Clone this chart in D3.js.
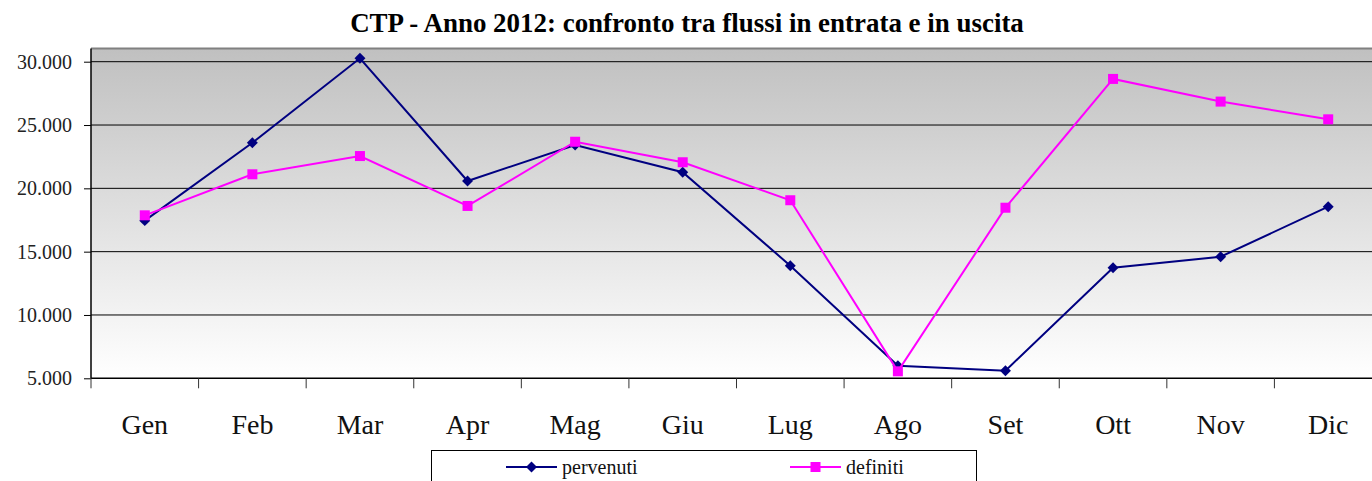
<!DOCTYPE html>
<html>
<head>
<meta charset="utf-8">
<script src="https://cdn.jsdelivr.net/npm/d3@7"></script>
<style>
  html, body { margin: 0; padding: 0; background: #fff; }
  svg { display: block; }
</style>
</head>
<body>
<svg id="chart" width="1372" height="481"></svg>
<script>
const months = ["Gen","Feb","Mar","Apr","Mag","Giu","Lug","Ago","Set","Ott","Nov","Dic"];
const pervenuti = [17450, 23600, 30270, 20580, 23420, 21270, 13890, 5990, 5600, 13730, 14600, 18550];
const definiti  = [17870, 21110, 22550, 18610, 23680, 22060, 19060, 5550, 18470, 28640, 26850, 25450];
const yTicks = [5000, 10000, 15000, 20000, 25000, 30000];
const seriesNames = ["pervenuti", "definiti"];
const titleText = "CTP - Anno 2012: confronto tra flussi in entrata e in uscita";

(function () {
const svg = d3.select("#chart");
const pLeft = 91, pRight = 1382, pTop = 48.4, pBottom = 378.3;
const serif = "'Liberation Serif', 'Times New Roman', serif";

const x = d3.scaleBand().domain(months).range([pLeft, pRight]);
const y = d3.scaleLinear().domain([5000, 31050]).range([pBottom, pTop]);

// gradient background
const defs = svg.append("defs");
const grad = defs.append("linearGradient").attr("id", "bg").attr("x1", 0).attr("y1", 0).attr("x2", 0).attr("y2", 1);
grad.append("stop").attr("offset", "0%").attr("stop-color", "#c0c0c0");
grad.append("stop").attr("offset", "100%").attr("stop-color", "#ffffff");

svg.append("rect").attr("x", pLeft).attr("y", pTop).attr("width", pRight - pLeft).attr("height", pBottom - pTop)
  .attr("fill", "url(#bg)");
svg.append("line").attr("x1", pLeft).attr("x2", pRight).attr("y1", pTop).attr("y2", pTop)
  .attr("stroke", "#808080").attr("stroke-width", 2);

// gridlines
svg.append("g").selectAll("line").data(yTicks.filter(d => d > 5000)).join("line")
  .attr("x1", pLeft).attr("x2", pRight)
  .attr("y1", d => y(d)).attr("y2", d => y(d))
  .attr("stroke", "#000").attr("stroke-width", 1);

// y axis
const yAxis = svg.append("g").attr("transform", `translate(${pLeft},0)`)
  .call(d3.axisLeft(y).tickValues(yTicks).tickSize(7).tickPadding(12)
    .tickFormat(d => d3.format(",")(d).replace(/,/g, ".")));
yAxis.select(".domain").attr("stroke", "#000").attr("stroke-width", 1.5).attr("d", `M0,${pTop}V${pBottom}`);
yAxis.selectAll(".tick line").attr("stroke", "#000");
yAxis.selectAll(".tick text").attr("font-family", serif).attr("font-size", 20).attr("fill", "#222");

// x axis
const xAxis = svg.append("g").attr("transform", `translate(0,${pBottom})`)
  .call(d3.axisBottom(x).tickSize(0).tickPadding(0));
xAxis.select(".domain").attr("stroke", "#000").attr("stroke-width", 1.5).attr("d", `M${pLeft},0H${pRight}`);
xAxis.selectAll(".tick text").attr("font-family", serif).attr("font-size", 28).attr("fill", "#111")
  .attr("dy", null).attr("y", 56);
xAxis.append("g").selectAll("line").data(months.concat(["__end"])).join("line")
  .attr("x1", (d, i) => pLeft + i * x.step()).attr("x2", (d, i) => pLeft + i * x.step())
  .attr("y1", 0).attr("y2", 10).attr("stroke", "#333").attr("stroke-width", 1);

// lines
const line = d3.line().x((d, i) => x(months[i]) + x.bandwidth() / 2).y(d => y(d));
const colors = ["#000080", "#ff00ff"];
const data = [pervenuti, definiti];
data.forEach((vals, si) => {
  svg.append("path").datum(vals).attr("d", line).attr("fill", "none")
    .attr("stroke", colors[si]).attr("stroke-width", 2);
  const g = svg.append("g");
  vals.forEach((v, i) => {
    const cx = x(months[i]) + x.bandwidth() / 2, cy = y(v);
    if (si === 0) {
      g.append("path").attr("d", d3.symbol(d3.symbolSquare, 60)())
        .attr("transform", `translate(${cx},${cy}) rotate(45)`).attr("fill", colors[si]);
    } else {
      g.append("rect").attr("x", cx - 5).attr("y", cy - 5).attr("width", 10).attr("height", 10).attr("fill", colors[si]);
    }
  });
});

// title
const title = svg.append("text").attr("x", 687).attr("y", 32).attr("text-anchor", "middle")
  .attr("font-family", serif).attr("font-weight", "bold").attr("font-size", 24).attr("fill", "#000")
  .text(titleText);
const tw = title.node().getComputedTextLength();
title.attr("font-size", 24 * 674 / tw);

// legend
const lg = svg.append("g");
lg.append("rect").attr("x", 431.5).attr("y", 450.5).attr("width", 545).attr("height", 50)
  .attr("fill", "#fff").attr("stroke", "#000").attr("stroke-width", 1);
const legX = [506, 790];
seriesNames.forEach((name, si) => {
  const lx = legX[si], ly = 467;
  lg.append("line").attr("x1", lx).attr("x2", lx + 51).attr("y1", ly).attr("y2", ly)
    .attr("stroke", colors[si]).attr("stroke-width", 2);
  if (si === 0) {
    lg.append("path").attr("d", d3.symbol(d3.symbolSquare, 60)())
      .attr("transform", `translate(${lx + 25.5},${ly}) rotate(45)`).attr("fill", colors[si]);
  } else {
    lg.append("rect").attr("x", lx + 20.5).attr("y", ly - 5).attr("width", 10).attr("height", 10).attr("fill", colors[si]);
  }
  lg.append("text").attr("x", lx + 56).attr("y", ly + 7).attr("font-family", serif).attr("font-size", 20)
    .attr("fill", "#111").text(name);
});
})();
</script>
</body>
</html>
